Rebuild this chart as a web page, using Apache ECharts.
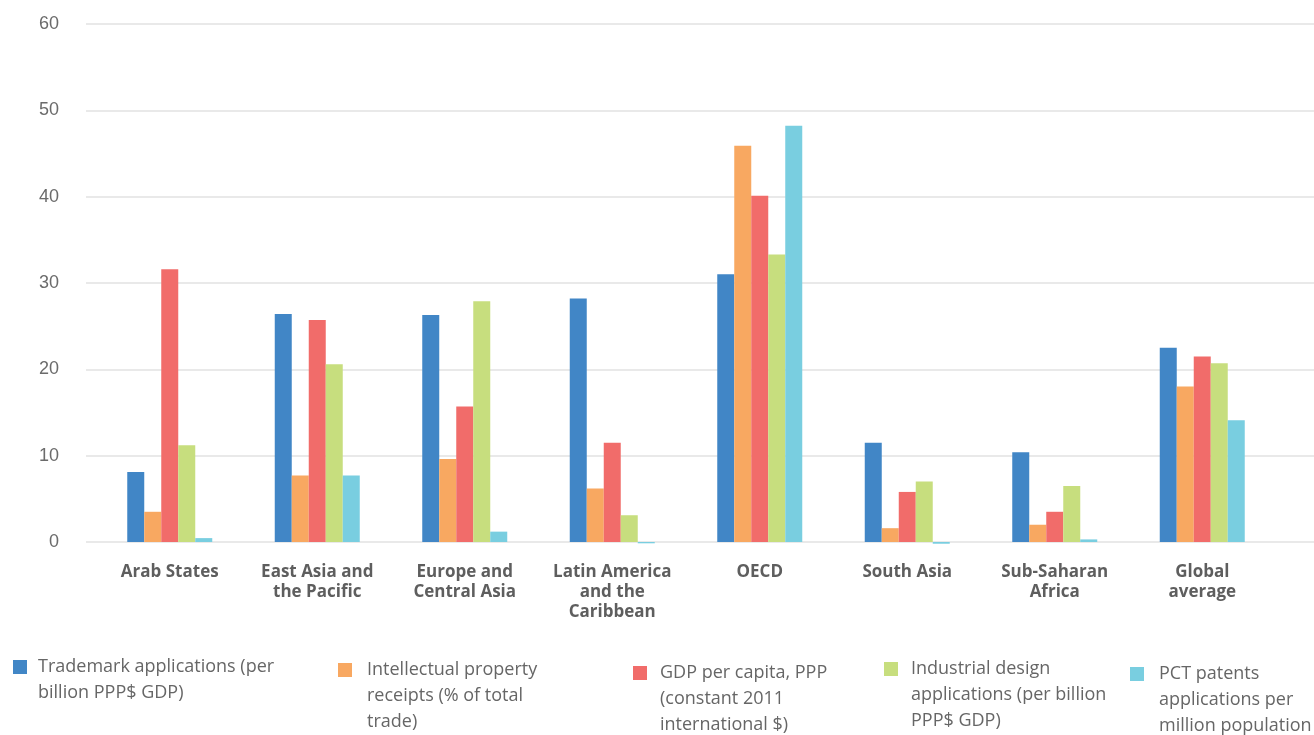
<!DOCTYPE html>
<html><head><meta charset="utf-8">
<script src="https://cdn.jsdelivr.net/npm/echarts@6/dist/echarts.min.js"></script>
<style>html,body{margin:0;padding:0;background:#fff}#c{width:1314px;height:735px}</style>
</head><body><div id="c"></div>
<script>
const categories = ['Arab States', 'East Asia and\nthe Pacific', 'Europe and\nCentral Asia', 'Latin America\nand the\nCaribbean', 'OECD', 'South Asia', 'Sub-Saharan\nAfrica', 'Global\naverage'];
const seriesNames = [
  'Trademark applications (per\nbillion PPP$ GDP)',
  'Intellectual property\nreceipts (% of total\ntrade)',
  'GDP per capita, PPP\n(constant 2011\ninternational $)',
  'Industrial design\napplications (per billion\nPPP$ GDP)',
  'PCT patents\napplications per\nmillion population'
];
const trademark = [8.1, 26.4, 26.3, 28.2, 31.0, 11.5, 10.4, 22.5];
const ipReceipts = [3.5, 7.7, 9.6, 6.2, 45.9, 1.6, 2.0, 18.0];
const gdpPerCapita = [31.6, 25.7, 15.7, 11.5, 40.1, 5.8, 3.5, 21.5];
const industrialDesign = [11.2, 20.6, 27.9, 3.1, 33.3, 7.0, 6.5, 20.7];
const pctPatents = [0.45, 7.7, 1.2, -0.15, 48.2, -0.2, 0.3, 14.1];
const yTicks = [0, 10, 20, 30, 40, 50, 60];

const colors = ['#4186C6', '#F8A861', '#F16C6A', '#C7DE7E', '#79CEE0'];
const values = [trademark, ipReceipts, gdpPerCapita, industrialDesign, pctPatents];

const legendLayout = [
  {left: 13, center: 667, padLeft: 6},
  {left: 338, center: 670, padLeft: 10},
  {left: 633, center: 673, padLeft: 8},
  {left: 884, center: 669, padLeft: 8},
  {left: 1130, center: 674, padLeft: 10}
];
const LH = 26;

const chart = echarts.init(document.getElementById('c'));
chart.setOption({
  animation: false,
  color: colors,
  grid: [
    {left: 96, right: 38, top: 24, bottom: 193},
    {left: 86, right: 0, top: 24, bottom: 193}
  ],
  xAxis: [
    {
      type: 'category', gridIndex: 0, data: categories,
      axisLine: {show: false}, axisTick: {show: false},
      axisLabel: {interval: 0, margin: 20, fontFamily: 'Open Sans', fontWeight: 'bold', fontSize: 17, color: '#5e5e5e', lineHeight: 20}
    },
    {type: 'value', gridIndex: 1, show: false, min: 0, max: 1}
  ],
  yAxis: [
    {type: 'value', gridIndex: 0, min: yTicks[0], max: yTicks[yTicks.length - 1], interval: 10, show: false, splitLine: {show: false}},
    {
      type: 'value', gridIndex: 1, min: yTicks[0], max: yTicks[yTicks.length - 1], interval: 10,
      axisLine: {show: false}, axisTick: {show: false},
      axisLabel: {margin: 27, fontFamily: 'Liberation Sans', fontSize: 18, color: '#6b6b6b'},
      splitLine: {show: true, lineStyle: {color: '#e9e9e9', width: 2}}
    }
  ],
  legend: seriesNames.map((name, i) => {
    const n = name.split('\n').length;
    return {
      data: [name], left: legendLayout[i].left, top: legendLayout[i].center - (2 * n - 1) * LH / 2, padding: 0,
      icon: 'rect', itemWidth: 14, itemHeight: 14, selectedMode: false,
      formatter: (nm) => '\n'.repeat(nm.split('\n').length - 1) + nm,
      textStyle: {fontFamily: 'Open Sans', fontSize: 18, color: '#666666', lineHeight: LH,
        padding: [0, 0, 0, legendLayout[i].padLeft]}
    };
  }),
  series: seriesNames.map((name, i) => ({
    name: name, type: 'bar', xAxisIndex: 0, yAxisIndex: 0,
    data: values[i], barWidth: 17, barGap: '0%', clip: false,
    itemStyle: {color: colors[i]}
  }))
});
</script>
</body></html>
